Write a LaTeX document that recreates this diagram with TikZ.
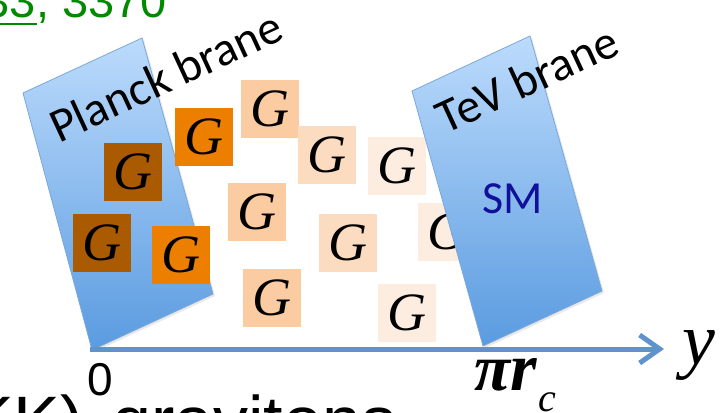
\documentclass[tikz,border=0pt]{standalone}
\usepackage{fontspec}
\setmainfont{Liberation Serif}
\newfontfamily\carlito{Carlito}
\newfontfamily\arial{Liberation Sans}
\usetikzlibrary{arrows.meta,shadows}
\definecolor{gbrown}{HTML}{AA5A00}
\definecolor{gorange}{HTML}{EC7F00}
\definecolor{gpeach}{HTML}{FBCBA2}
\definecolor{glpeach}{HTML}{FCDCC1}
\definecolor{gvlight}{HTML}{FDEDE1}
\definecolor{branetop}{HTML}{BCDBFC}
\definecolor{branebot}{HTML}{5A9BE0}
\definecolor{braneedge}{HTML}{7AA8DA}
\definecolor{arrowblue}{HTML}{5F93CE}
\definecolor{smblue}{HTML}{10109A}
\definecolor{refgreen}{HTML}{008A00}
\tikzset{
  gbox/.style={minimum size=58pt, inner sep=0pt, outer sep=0pt,
    font=\fontsize{54}{56}\selectfont\itshape},
  brane/.style={draw=braneedge, line width=0.8pt, top color=branetop, bottom color=branebot,
    drop shadow={opacity=0.18, shadow xshift=2pt, shadow yshift=-2pt}},
  branelabel/.style={font=\carlito\fontsize{48}{50}\selectfont, rotate=24.8, inner sep=0pt},
  axis/.style={draw=arrowblue, line width=5pt, -{Straight Barb[length=20pt,width=28pt]}},
}
\begin{document}
\begin{tikzpicture}[x=1pt,y=-1pt]
\useasboundingbox (0,0) rectangle (722,412);
\clip (0,0) rectangle (722,412);
% reference text at top (cropped)
\node[anchor=base east, inner sep=0pt, text=refgreen, font=\arial\fontsize{47}{49}\selectfont] (ref) at (167,18) {33, 3370};
\draw[refgreen, line width=2.4pt] (-16,24) -- (37,24);
% Planck brane
\path[brane] (23,93) -- (142,38) -- (213,294) -- (92,350) -- cycle;
% graviton boxes
\node[gbox, fill=gbrown] (g1) at (133,172) {G};
\node[gbox, fill=gbrown] (g2) at (102,243) {G};
\node[gbox, fill=gorange] (g3) at (204,137) {G};
\node[gbox, fill=gorange] (g4) at (181,255) {G};
\node[gbox, fill=gpeach] (g5) at (270,109) {G};
\node[gbox, fill=gpeach] (g6) at (257,212) {G};
\node[gbox, fill=gpeach] (g7) at (272,298) {G};
\node[gbox, fill=glpeach] (g8) at (327,155) {G};
\node[gbox, fill=glpeach] (g9) at (348,243) {G};
\node[gbox, fill=gvlight] (g10) at (397,166) {G};
\node[gbox, fill=gvlight] (g11) at (447,232) {G};
\node[gbox, fill=gvlight] (g12) at (407,313) {G};
% TeV brane
\path[brane] (412,91) -- (530,36) -- (602,291) -- (483,346) -- cycle;
% labels
\node[branelabel] (planck) at (166,76) {Planck brane};
\node[branelabel] (tev) at (527,79) {TeV brane};
\node[font=\carlito\fontsize{46}{48}\selectfont, text=smblue, inner sep=0pt] (sm) at (513,199) {SM};
% axis
\coordinate (o) at (90,349);
\coordinate (yend) at (664,349);
\draw[axis] (o) -- (yend);
\node[anchor=base, inner sep=0pt, font=\arial\fontsize{46}{48}\selectfont] (zero) at (100,395) {0};
\node[anchor=base west, inner sep=0pt, font=\fontsize{66}{68}\selectfont\bfseries\itshape] (pir) at (474,390) {π};
\node[anchor=base west, inner sep=0pt, font=\fontsize{68}{70}\selectfont\bfseries\itshape] (rr) at (510,390) {r};
\node[anchor=base west, inner sep=0pt, font=\fontsize{40}{42}\selectfont\itshape] (sub) at (538,411) {c};
\node[anchor=base west, inner sep=0pt, font=\fontsize{74}{76}\selectfont\itshape] (ylab) at (682,364) {y};
% bottom text (cropped)
\node[anchor=base east, inner sep=0pt, font=\arial\fontsize{70}{72}\selectfont] (kk) at (84,445) {(KK)};
\node[anchor=base west, inner sep=0pt, font=\arial\fontsize{70}{72}\selectfont] (grav) at (112,445) {gravitons};
\end{tikzpicture}
\end{document}
